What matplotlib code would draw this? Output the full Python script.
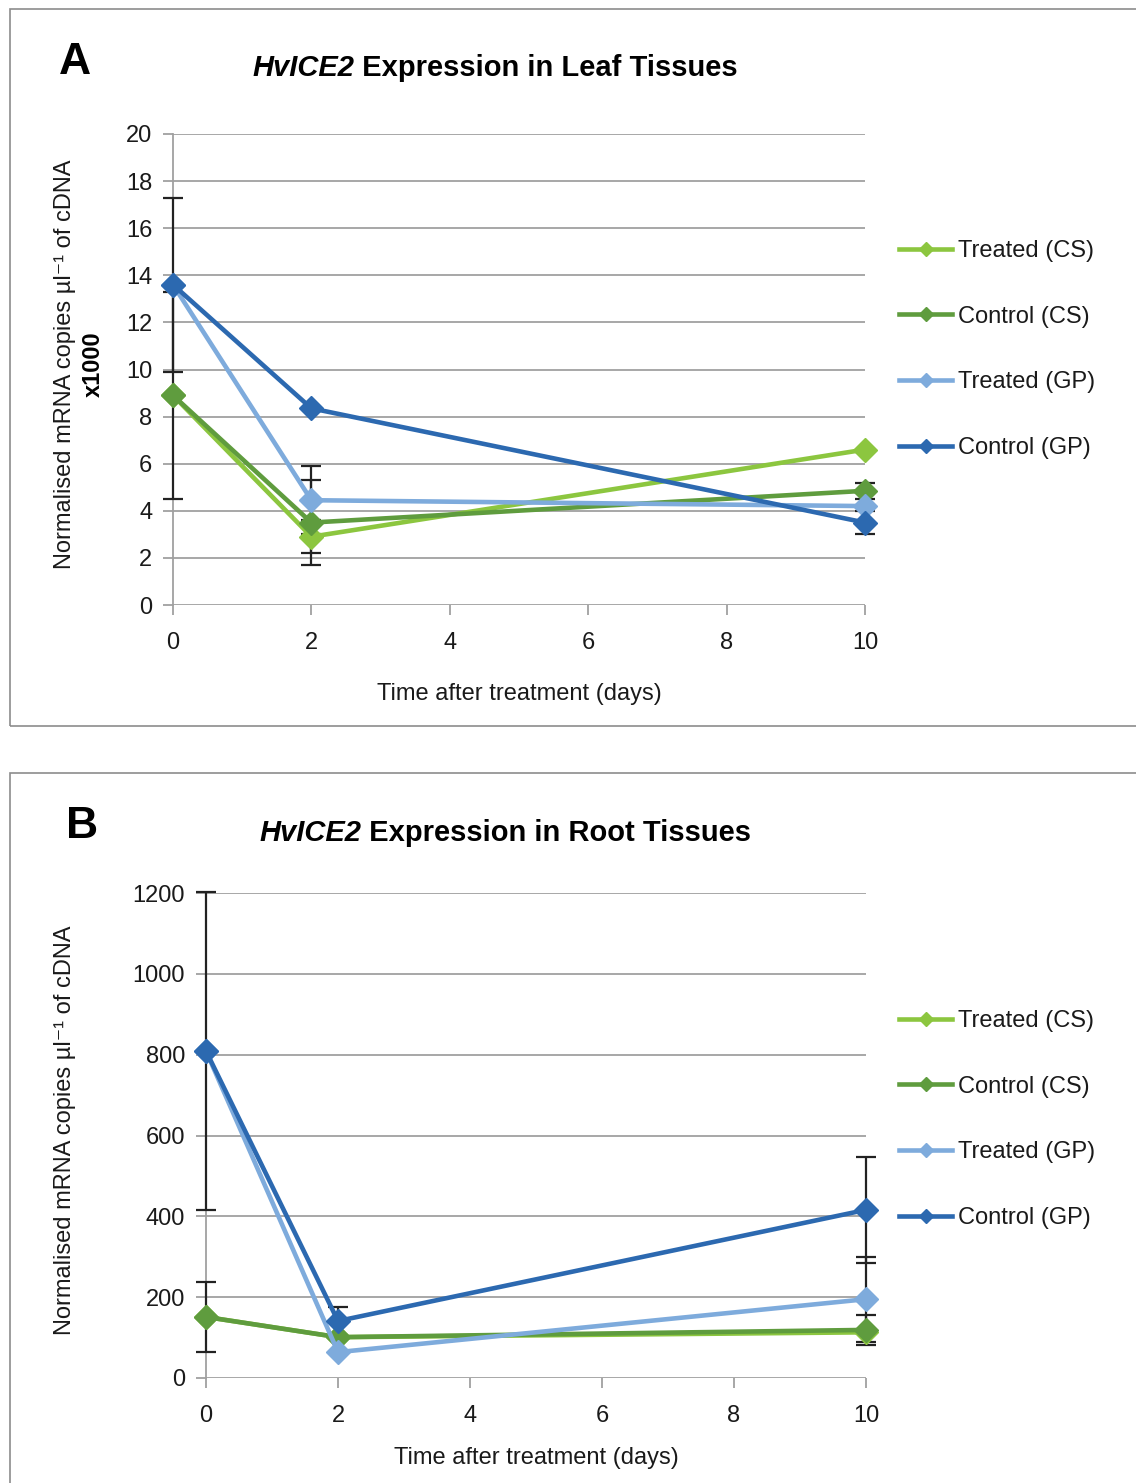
import matplotlib
matplotlib.use("Agg")
import matplotlib.pyplot as plt
from matplotlib.patches import Rectangle

plt.rcParams["font.family"] = ["Liberation Sans", "DejaVu Sans"]

days = [0, 2, 10]
series = ["Treated (CS)", "Control (CS)", "Treated (GP)", "Control (GP)"]
colors = ["#8cc63f", "#5f9c3e", "#7eabdc", "#2c69b0"]

# leaf tissues (x1000)
leaf_vals = [[8.9, 2.9, 6.6],
             [8.9, 3.5, 4.85],
             [13.6, 4.45, 4.2],
             [13.6, 8.35, 3.5]]
leaf_err = [[0.0, 0.7, 0.0],
            [4.4, 1.8, 0.33],
            [0.0, 1.45, 0.0],
            [3.7, 0.0, 0.5]]

# root tissues
root_vals = [[151, 101, 113],
             [151, 101, 119],
             [809, 64, 195],
             [809, 141, 416]]
root_err = [[0, 0, 0],
            [87, 0, 37],
            [0, 0, 105],
            [393, 35, 131]]

W, H = 1136, 1483
FS = 17
fig = plt.figure(figsize=(W / 100, H / 100), dpi=100)

# panel boxes
fig.patches.append(Rectangle((10 / W, 1 - 726 / H), 1.2, 717 / H, transform=fig.transFigure,
                             fill=False, edgecolor="#8c8c8c", linewidth=1.2))
fig.patches.append(Rectangle((10 / W, -0.1), 1.2, (0.1 + (H - 773) / H), transform=fig.transFigure,
                             fill=False, edgecolor="#8c8c8c", linewidth=1.2))


def panel(box, vals, errs, ymax, ystep, letter, letter_xy, title_xy, tissue, legend_y0, xlabpad, bold_x1000):
    x0, y0, x1, y1 = box
    ax = fig.add_axes([x0 / W, 1 - y1 / H, (x1 - x0) / W, (y1 - y0) / H])
    for v, e in zip(vals, errs):
        ax.errorbar(days, v, yerr=e, fmt="none", ecolor="#222222", elinewidth=1.6,
                    capsize=7, capthick=1.6, zorder=2.7, clip_on=False)
    for v, c, name in zip(vals, colors, series):
        ax.plot(days, v, color=c, lw=3.3, marker="D", markersize=12, zorder=3,
                clip_on=False, label=name)
    ax.set_xlim(0, 10)
    ax.set_ylim(0, ymax)
    ax.set_xticks(range(0, 11, 2))
    ax.set_yticks(range(0, ymax + 1, ystep))
    ax.grid(axis="y", color="#a0a0a0", linewidth=1.3, zorder=0)
    ax.set_axisbelow(True)
    for s in ["top", "right", "bottom"]:
        ax.spines[s].set_visible(False)
    ax.spines["left"].set_color("#a0a0a0")
    ax.spines["left"].set_linewidth(1.3)
    ax.tick_params(axis="both", colors="#a0a0a0", width=1.3, length=7, labelcolor="#1a1a1a",
                   labelsize=FS, direction="out")
    ax.tick_params(axis="y", pad=8)
    ax.tick_params(axis="x", pad=12.5)
    ax.set_xlabel("Time after treatment (days)", fontsize=FS, labelpad=xlabpad, color="#1a1a1a")

    fig.text(letter_xy[0] / W, 1 - letter_xy[1] / H, letter, fontsize=32, fontweight="bold",
             ha="center", va="center")
    t1 = fig.text(title_xy[0] / W, 1 - title_xy[1] / H, "HvICE2", fontsize=21, fontweight="bold",
                  fontstyle="italic", ha="left", va="center")
    ax.annotate(" Expression in " + tissue + " Tissues", xy=(1, 0.5), xycoords=t1,
                fontsize=21, fontweight="bold", ha="left", va="center")
    ymid = (y0 + y1) / 2 - 5
    fig.text(65 / W, 1 - ymid / H, "Normalised mRNA copies µl⁻¹ of cDNA", rotation=90,
             fontsize=FS, ha="center", va="center", color="#1a1a1a")
    if bold_x1000:
        fig.text(93 / W, 1 - ymid / H, "x1000", rotation=90, fontsize=FS,
                 fontweight="bold", ha="center", va="center")

    leg = ax.legend(loc="upper left", bbox_to_anchor=(899 / W, 1 - legend_y0 / H),
                    bbox_transform=fig.transFigure, frameon=False, fontsize=FS,
                    handlelength=2.25, handletextpad=0.25, labelspacing=1.85, markerscale=0.6,
                    borderpad=0, borderaxespad=0)
    for t in leg.get_texts():
        t.set_color("#1a1a1a")
    return ax


panel((173, 134, 865, 605), leaf_vals, leaf_err, 20, 2, "A", (75, 62), (252, 68), "Leaf", 240, 21, True)
panel((206, 893, 866, 1378), root_vals, root_err, 1200, 200, "B", (82, 827), (259, 833), "Root", 1010, 14, False)

fig.savefig("out.png", dpi=100)
